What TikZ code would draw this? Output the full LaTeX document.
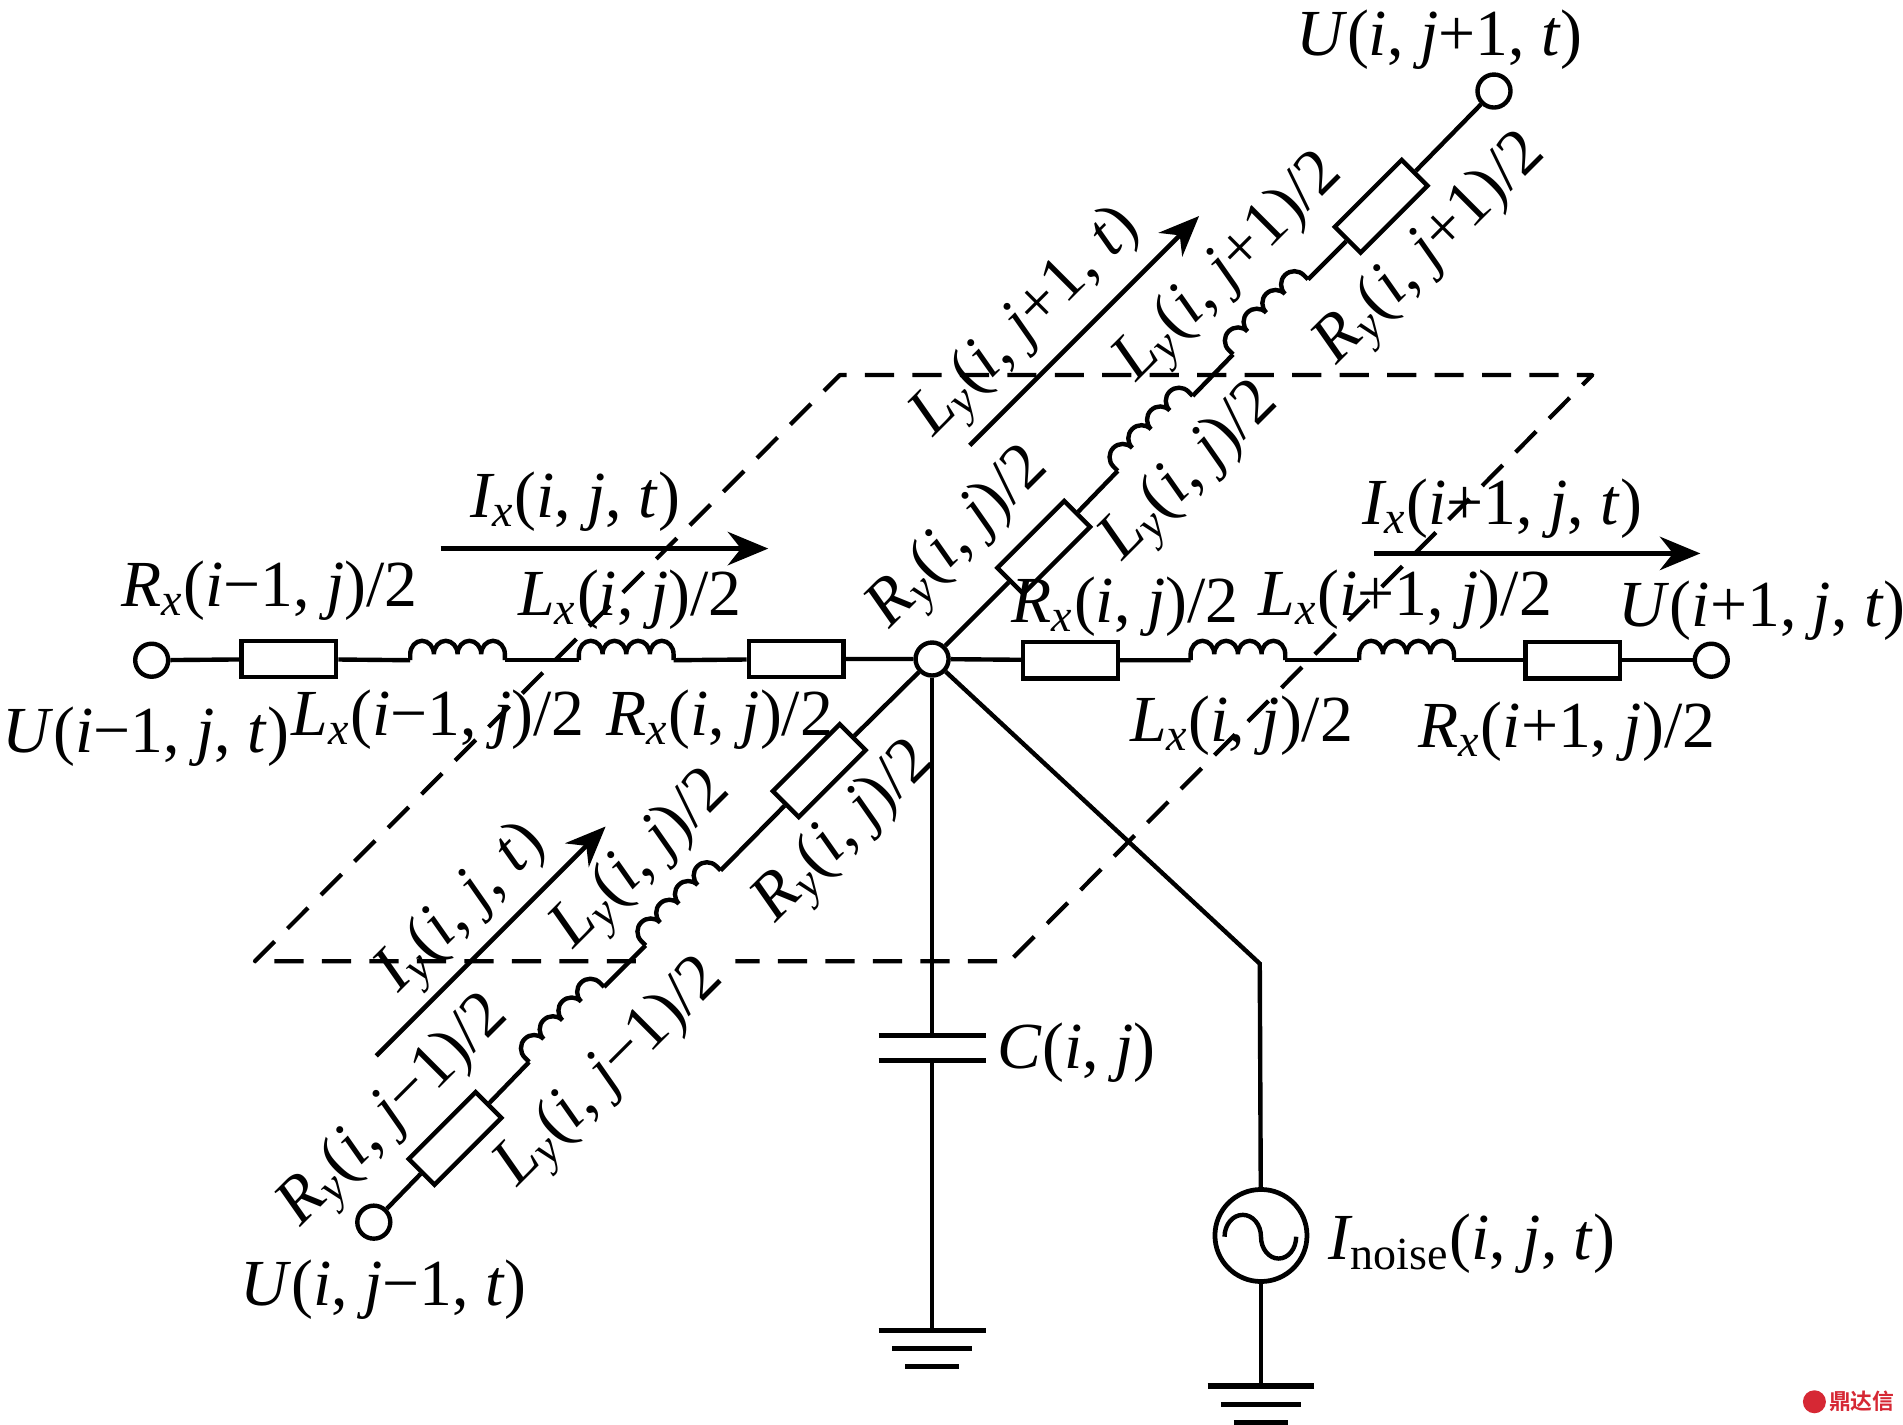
\documentclass[tikz,border=0pt]{standalone}
\usepackage{fontspec}
\setmainfont{Liberation Serif}
\newfontfamily\cjkfont{Noto Sans CJK SC}[BoldFont={Noto Sans CJK SC Bold}]
\usetikzlibrary{arrows.meta}
\newcommand{\up}[1]{\textup{#1}}
\newcommand{\dn}[1]{\textsubscript{#1}}
\tikzset{
  wire/.style = {line width = 1.25pt, line join = miter},
  flow/.style = {line width = 1.35pt, -{Stealth[length = 11.5pt, width = 9.5pt]}},
  frame/.style = {line width = 1.2pt, line join = round, dash pattern = on 8.3pt off 5.2pt},
  plate/.style = {line width = 1.5pt},
  terminal/.style = {circle, draw, line width = 1.25pt, fill = white, minimum size = 0.33cm, inner sep = 0pt},
  res/.style = {rectangle, draw, line width = 1.25pt, fill = white, minimum width = 0.945cm, minimum height = 0.365cm, inner sep = 0pt},
  lbl/.style = {inner sep = 0pt, font = \fontsize{18.7}{20}\selectfont\itshape},
  coil/.pic = {
    \draw[wire] (0,0)--(0,5) arc[start angle = 180, end angle = 0, x radius = 9.75, y radius = 11]
      arc[start angle = 180, end angle = 0, x radius = 9.75, y radius = 11]
      arc[start angle = 180, end angle = 0, x radius = 9.75, y radius = 11]
      arc[start angle = 180, end angle = 0, x radius = 9.75, y radius = 11]--(78,0);
    \coordinate (-in) at(0,0);
    \coordinate (-out) at(78,0);
  }
}
\begin{document}
\begin{tikzpicture}[x = 0.012136cm, y = 0.012136cm]
\useasboundingbox (0,0) rectangle (1568,-1174);
\coordinate (fa) at(692,-309);
\coordinate (fb) at(1312,-309);
\coordinate (fc) at(832,-792);
\coordinate (fd) at(606,-792);
\coordinate (fe) at(524,-792);
\coordinate (ff) at(210,-792);
\draw[frame] (fe)--(ff)--(fa)--(fb)--(fc)--(fd);
\node[terminal] (uw) at(125,-544) {};
\node[terminal] (ue) at(1410,-544) {};
\node[terminal] (un) at(1231,-75) {};
\node[terminal] (us) at(308,-1007) {};
\node[terminal] (oc) at(768,-543) {};
\node[res] (rw1) at(238,-543) {};
\node[res] (rw2) at(656,-543) {};
\node[res] (re1) at(882,-544) {};
\node[res] (re2) at(1296,-544) {};
\node[res, rotate = 45] (rn1) at(860,-451) {};
\node[res, rotate = 45] (rn2) at(1138,-170) {};
\node[res, rotate = 45] (rs1) at(675,-635) {};
\node[res, rotate = 45] (rs2) at(375,-938) {};
\pic (lw1) at(338,-544) {coil};
\pic (lw2) at(477,-544) {coil};
\pic (le1) at(981,-544) {coil};
\pic (le2) at(1120,-544) {coil};
\pic[rotate = 45, xscale = 1.12] (ln1) at(921,-388) {coil};
\pic[rotate = 45, xscale = 1.12] (ln2) at(1016,-292) {coil};
\pic[rotate = 45, xscale = 1.12] (ls1) at(532,-779) {coil};
\pic[rotate = 45, xscale = 1.12] (ls2) at(436,-875) {coil};
\draw[wire] (uw)--(rw1)--(lw1-in);
\draw[wire] (lw1-out)--(lw2-in);
\draw[wire] (lw2-out)--(rw2)--(oc);
\draw[wire] (oc)--(re1)--(le1-in);
\draw[wire] (le1-out)--(le2-in);
\draw[wire] (le2-out)--(re2)--(ue);
\draw[wire] (oc)--(rn1)--(ln1-in);
\draw[wire] (ln1-out)--(ln2-in);
\draw[wire] (ln2-out)--(rn2)--(un);
\draw[wire] (oc)--(rs1)--(ls1-out);
\draw[wire] (ls1-in)--(ls2-out);
\draw[wire] (ls2-in)--(rs2)--(us);
\coordinate (ca) at(768,-853);
\coordinate (cb) at(768,-874);
\coordinate (ga) at(768,-1096);
\coordinate (gb) at(768,-1111);
\coordinate (gc) at(768,-1126);
\draw[wire] (oc)--(ca);
\draw[wire] (cb)--(ga);
\draw[plate] ([xshift = -0.534cm]ca)--([xshift = 0.534cm]ca);
\draw[plate] ([xshift = -0.534cm]cb)--([xshift = 0.534cm]cb);
\draw[plate] ([xshift = -0.534cm]ga)--([xshift = 0.534cm]ga);
\draw[plate] ([xshift = -0.40cm]gb)--([xshift = 0.40cm]gb);
\draw[plate] ([xshift = -0.27cm]gc)--([xshift = 0.27cm]gc);
\coordinate (kn) at(1038,-794);
\node[circle, draw, line width = 1.35pt, minimum size = 0.92cm, inner sep = 0pt] (src) at(1039,-1018) {};
\coordinate (gd) at(1039,-1142);
\coordinate (ge) at(1039,-1157);
\coordinate (gf) at(1039,-1172);
\draw[wire] (oc)--(kn)--(src);
\draw[wire] (src)--(gd);
\draw[wire] (1009,-1019) arc[start angle = 180, end angle = 0, x radius = 15, y radius = 18]
  arc[start angle = 180, end angle = 360, x radius = 14.5, y radius = 18];
\draw[plate] ([xshift = -0.534cm]gd)--([xshift = 0.534cm]gd);
\draw[plate] ([xshift = -0.40cm]ge)--([xshift = 0.40cm]ge);
\draw[plate] ([xshift = -0.27cm]gf)--([xshift = 0.27cm]gf);
\coordinate (a1) at(363,-452);
\coordinate (a2) at(633,-452);
\coordinate (b1) at(1132,-456);
\coordinate (b2) at(1401,-456);
\coordinate (c1) at(799,-367);
\coordinate (c2) at(988,-178);
\coordinate (d1) at(310,-870);
\coordinate (d2) at(499,-681);
\draw[flow] (a1)--(a2);
\draw[flow] (b1)--(b2);
\draw[flow] (c1)--(c2);
\draw[flow] (d1)--(d2);
\node[lbl] (t1) at(120,-607) {U\up{(}i\up{−1, }j\up{, }t\up{)}};
\node[lbl] (t2) at(222,-487) {R\dn{x}\up{(}i\up{−1, }j\up{)/2}};
\node[lbl] (t3) at(361,-593) {L\dn{x}\up{(}i\up{−1, }j\up{)/2}};
\node[lbl] (t4) at(593,-593) {R\dn{x}\up{(}i\up{, }j\up{)/2}};
\node[lbl] (t5) at(519,-494) {L\dn{x}\up{(}i\up{, }j\up{)/2}};
\node[lbl] (t6) at(474,-413) {I\dn{x}\up{(}i\up{, }j\up{, }t\up{)}};
\node[lbl] (t7) at(927,-500) {R\dn{x}\up{(}i\up{, }j\up{)/2}};
\node[lbl] (t8) at(1158,-494) {L\dn{x}\up{(}i\up{+1, }j\up{)/2}};
\node[lbl] (t9) at(1238,-419) {I\dn{x}\up{(}i\up{+1, }j\up{, }t\up{)}};
\node[lbl] (t10) at(1452,-503) {U\up{(}i\up{+1, }j\up{, }t\up{)}};
\node[lbl] (t11) at(1023,-598) {L\dn{x}\up{(}i\up{, }j\up{)/2}};
\node[lbl] (t12) at(1291,-603) {R\dn{x}\up{(}i\up{+1, }j\up{)/2}};
\node[lbl] (t13) at(1186,-33) {U\up{(}i\up{, }j\up{+1, }t\up{)}};
\node[lbl] (t14) at(316,-1063) {U\up{(}i\up{, }j\up{−1, }t\up{)}};
\node[lbl] (t15) at(887,-867) {C\up{(}i\up{, }j\up{)}};
\node[lbl] (t16) at(1213,-1025) {I\dn{\up{noise}}\up{(}i\up{, }j\up{, }t\up{)}};
\node[lbl, rotate = 45] (t17) at(1014,-222) {L\dn{y}\up{(}i\up{, }j\up{+1)/2}};
\node[lbl, rotate = 45] (t18) at(1180,-207) {R\dn{y}\up{(}i\up{, }j\up{+1)/2}};
\node[lbl, rotate = 45] (t19) at(847,-267) {L\dn{y}\up{(}i\up{, }j\up{+1, }t\up{)}};
\node[lbl, rotate = 45] (t20) at(982,-390) {L\dn{y}\up{(}i\up{, }j\up{)/2}};
\node[lbl, rotate = 45] (t21) at(791,-445) {R\dn{y}\up{(}i\up{, }j\up{)/2}};
\node[lbl, rotate = 45] (t22) at(697,-687) {R\dn{y}\up{(}i\up{, }j\up{)/2}};
\node[lbl, rotate = 45] (t23) at(530,-710) {L\dn{y}\up{(}i\up{, }j\up{)/2}};
\node[lbl, rotate = 45] (t24) at(382,-750) {I\dn{y}\up{(}i\up{, }j\up{, }t\up{)}};
\node[lbl, rotate = 45] (t25) at(326,-917) {R\dn{y}\up{(}i\up{, }j\up{−1)/2}};
\node[lbl, rotate = 45] (t26) at(504,-885) {L\dn{y}\up{(}i\up{, }j\up{−1)/2}};
\definecolor{markred}{RGB}{214,40,52}
\node[circle, fill = markred, minimum size = 0.23cm, inner sep = 0pt] (wm) at(1495,-1155) {};
\node[inner sep = 0pt, text = markred, font = \cjkfont\bfseries\fontsize{6.2}{7}\selectfont] (wt) at(1534,-1155) {鼎达信};
\end{tikzpicture}
\end{document}
